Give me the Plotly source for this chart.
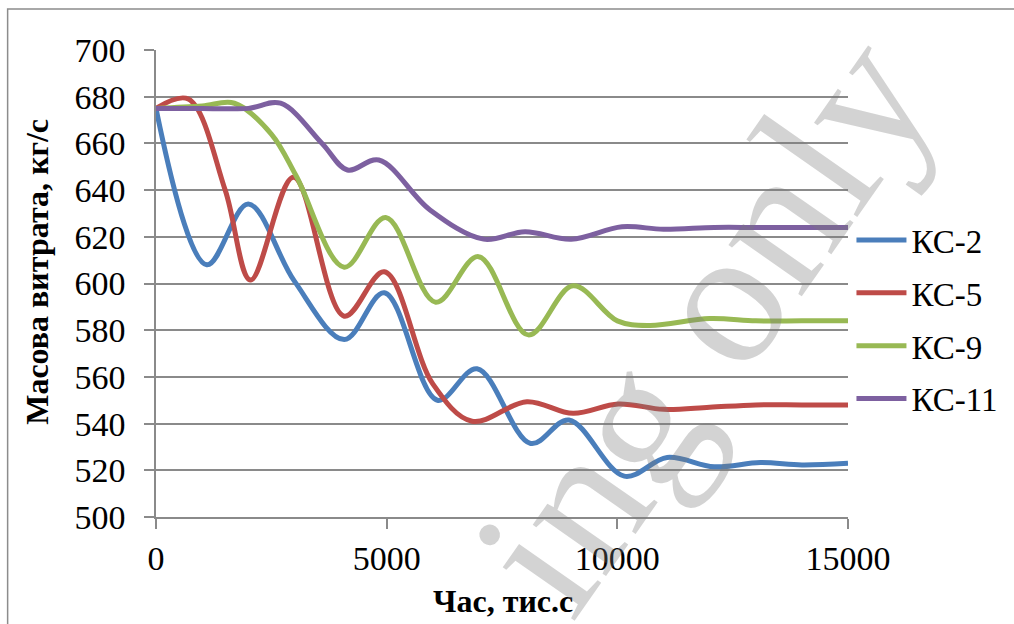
import plotly.graph_objects as go

# Mass flow rate (kg/s) against time (thousand s) for each compressor station;
# each station is sampled at its own time points
ks2_t = [0, 1100, 2000, 3000, 4080, 4950, 6100, 6960, 8120, 8950, 10150, 11080, 12100, 13100, 14000, 15000]
ks2_v = [675, 608, 634, 601, 576, 596, 550, 563.5, 531.5, 541.5, 517.5, 525.5, 521.5, 523.3, 522.3, 523]

ks5_t = [0, 700, 1500, 2050, 2980, 4080, 4950, 6000, 6850, 8040, 9040, 10020, 11000, 12000, 13000, 14000, 15000]
ks5_v = [675, 679, 640, 601.5, 645.5, 586, 605, 557, 541, 549.4, 544.4, 548.4, 546.1, 547, 548, 548, 548]

ks9_t = [0, 1000, 1700, 2500, 3040, 4080, 4980, 6060, 6990, 8070, 9040, 10000, 10700, 12000, 13000, 14000, 15000]
ks9_v = [675, 676, 677.2, 664, 646, 607, 628.3, 592, 611.5, 578, 599, 584, 582, 585, 584, 584, 584]

ks11_t = [0, 1000, 2000, 2700, 3600, 4150, 4830, 5940, 7100, 8000, 9000, 10100, 11000, 12100, 13000, 14000, 15000]
ks11_v = [675, 675, 675, 677.2, 660, 648.6, 652.9, 631.5, 619, 622.2, 619, 624.3, 623.2, 624, 624, 624, 624]

series_names = ["КС-2", "КС-5", "КС-9", "КС-11"]
series_times = [ks2_t, ks5_t, ks9_t, ks11_t]
series_values = [ks2_v, ks5_v, ks9_v, ks11_v]
series_colors = ["#4A7EBB", "#BE4B48", "#98B954", "#7D60A0"]

y_ticks = [500, 520, 540, 560, 580, 600, 620, 640, 660, 680, 700]
x_ticks = [0, 5000, 10000, 15000]

SERIF = "Liberation Serif"
GRID = "#8A8A8A"

fig = go.Figure()
for i, (name, ts, vals, col) in enumerate(zip(series_names, series_times, series_values, series_colors)):
    fig.add_trace(go.Scatter(
        x=ts, y=vals, name=name, mode="lines",
        line=dict(color=col, width=5, shape="spline", smoothing=1.0),
        legendgroup=f"g{i}",
    ))

fig.update_layout(
    width=1014, height=624,
    margin=dict(l=156, r=163, t=50, b=107),
    paper_bgcolor="white", plot_bgcolor="white",
    font=dict(family=SERIF, size=32, color="black"),
    showlegend=True,
    legend=dict(
        x=1.005, y=0.423, xanchor="left", yanchor="middle",
        font=dict(family=SERIF, size=33, color="black"),
        traceorder="grouped", tracegroupgap=7,
        itemwidth=50, bgcolor="rgba(0,0,0,0)",
    ),
    xaxis=dict(
        range=[0, 15000], tickvals=x_ticks, ticktext=[str(v) for v in x_ticks],
        showgrid=False, zeroline=False,
        showline=True, linecolor=GRID, linewidth=1.5,
        ticks="outside", ticklen=10, tickwidth=1.5, tickcolor=GRID,
        ticklabelstandoff=0,
        tickfont=dict(family=SERIF, size=34, color="black"),
    ),
    yaxis=dict(
        range=[500, 700], tickvals=y_ticks,
        showgrid=True, gridcolor=GRID, gridwidth=1.5, zeroline=False,
        showline=True, linecolor=GRID, linewidth=1.5,
        ticks="outside", ticklen=10, tickwidth=1.5, tickcolor=GRID,
        ticklabelstandoff=12,
        tickfont=dict(family=SERIF, size=34, color="black"),
    ),
)

# Axis titles
fig.add_annotation(
    text="<b>Масова витрата, кг/с</b>", textangle=-90,
    xref="paper", yref="paper", x=-0.172, y=0.525,
    xanchor="center", yanchor="middle", showarrow=False,
    font=dict(family=SERIF, size=32, color="black"),
)
fig.add_annotation(
    text="<b>Час, тис.с</b>",
    xref="paper", yref="paper", x=0.502, y=-0.18,
    xanchor="center", yanchor="middle", showarrow=False,
    font=dict(family=SERIF, size=32, color="black"),
)

# Diagonal watermark text
fig.add_annotation(
    text="ing only", textangle=-55,
    xref="paper", yref="paper", x=0.791, y=0.417,
    xanchor="center", yanchor="middle", showarrow=False,
    font=dict(family=SERIF, size=195, color="rgba(120,120,120,0.33)"),
)

# Outer chart frame
fig.add_shape(
    type="rect", xref="paper", yref="paper",
    x0=-0.2144, x1=1.25, y0=-0.25, y1=1.0878,
    line=dict(color="#8C8C8C", width=1.5), fillcolor="rgba(0,0,0,0)",
    layer="below",
)

fig.write_html("out.html")
